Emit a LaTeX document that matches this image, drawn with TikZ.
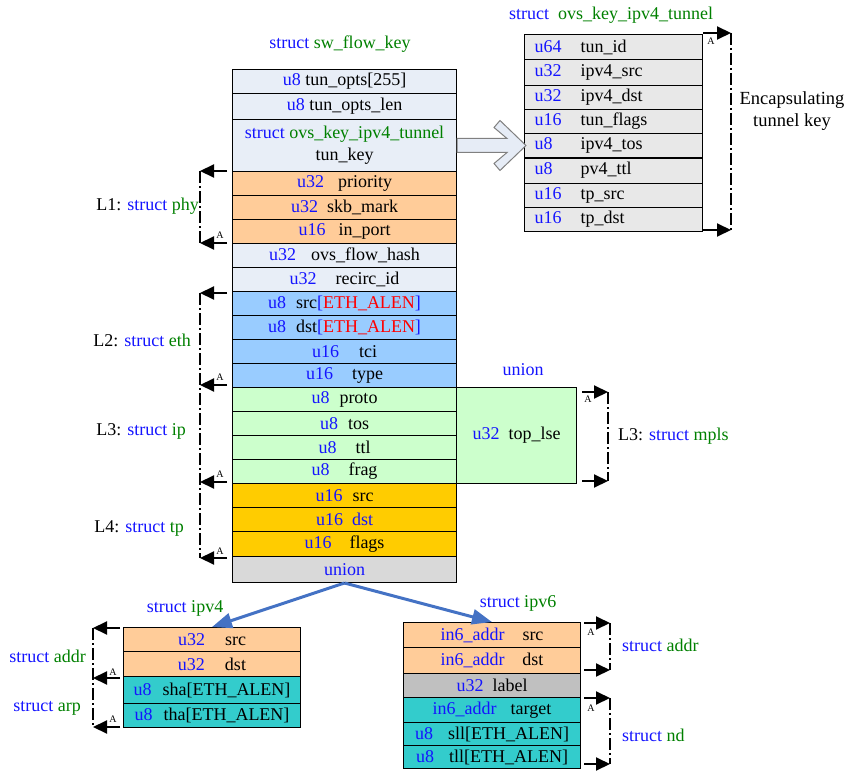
\documentclass[tikz,border=0pt]{standalone}
\usepackage{fontspec}
\setmainfont{Liberation Serif}
\usetikzlibrary{arrows.meta,calc}
\definecolor{cTun}{RGB}{232,238,247}
\definecolor{cPeach}{RGB}{255,204,153}
\definecolor{cEth}{RGB}{153,204,255}
\definecolor{cIp}{RGB}{204,255,204}
\definecolor{cTp}{RGB}{255,204,0}
\definecolor{cUnion}{RGB}{217,217,217}
\definecolor{cGray}{RGB}{232,232,232}
\definecolor{cTeal}{RGB}{51,204,204}
\definecolor{cLabel}{RGB}{192,192,192}
\definecolor{tyblue}{RGB}{20,20,255}
\definecolor{stgreen}{RGB}{0,128,0}
\definecolor{arrblue}{RGB}{68,114,196}
\definecolor{ered}{RGB}{255,0,0}
\definecolor{bigarrfill}{RGB}{230,236,246}
\newcommand\ty[1]{\textcolor{tyblue}{#1}}
\newcommand\sg[1]{\textcolor{stgreen}{#1}}
\newcommand\eth{\ty{[}\textcolor{ered}{ETH\_ALEN}\ty{]}}
\newcommand\tcol[2]{\makebox[178pt][l]{\hspace*{10pt}\makebox[46pt][l]{\ty{#1}}#2}}
\newcommand\gap[1]{\hspace*{#1pt}}
\begin{document}
\begin{tikzpicture}[x=1pt,y=-1pt,
  base/.style={font=\fontsize{18}{21}\selectfont, inner sep=0pt},
  fld/.style={draw=black, line width=1pt, inner sep=0pt, anchor=north west,
    minimum width=224, minimum height=24, font=\fontsize{18}{21}\selectfont},
  sfld/.style={fld, minimum width=177},
  tfld/.style={fld, minimum width=178, minimum height=24},
  brk/.style={line width=1.5pt, dash pattern=on 12pt off 3pt on 2pt off 3pt},
  harr/.style={line width=2pt, -{Triangle[length=14pt,width=13pt]}},
  smallA/.style={font=\fontsize{10}{10}\selectfont, inner sep=0pt},
  bluearr/.style={draw=arrblue, line width=3pt, -{Triangle[length=20pt,width=15pt]}},
  bigarrow/.style={draw=gray, line width=1pt, fill=bigarrfill}
]
\useasboundingbox (0,0) rectangle (849,781);

% ---------- titles ----------
\node[base] (tmain) at (340,44) {\ty{struct} \sg{sw\_flow\_key}};
\node[base] (ttun) at (611,15) {\ty{struct}\ \ \sg{ovs\_key\_ipv4\_tunnel}};
\node[base] (tunion) at (523,370) {\ty{union}};
\node[base] (tv4) at (185,608) {\ty{struct} \sg{ipv4}};
\node[base] (tv6) at (518,603) {\ty{struct} \sg{ipv6}};

% ---------- main struct ----------
\node[fld, fill=cTun] (tunopts) at (232,69) {\ty{u8} tun\_opts[255]};
\node[fld, fill=cTun, minimum height=26] (tunlen) at (232,93) {\ty{u8} tun\_opts\_len};
\node[fld, fill=cTun, minimum height=52, align=center, font=\fontsize{18}{22}\selectfont] (tunkey) at (232,119) {\ty{struct} \sg{ovs\_key\_ipv4\_tunnel}\\tun\_key};
\node[fld, fill=cPeach] (prio) at (232,171) {\ty{u32}\gap{14}priority};
\node[fld, fill=cPeach] (skb) at (232,195) {\ty{u32}\gap{9}skb\_mark};
\node[fld, fill=cPeach] (inport) at (232,219) {\ty{u16}\gap{13}in\_port};
\node[fld, fill=cTun] (hash) at (232,243) {\ty{u32}\gap{15}ovs\_flow\_hash};
\node[fld, fill=cTun] (recirc) at (232,267) {\ty{u32}\gap{19}recirc\_id};
\node[fld, fill=cEth] (esrc) at (232,291) {\ty{u8}\gap{10}src\eth};
\node[fld, fill=cEth] (edst) at (232,315) {\ty{u8}\gap{10}dst\eth};
\node[fld, fill=cEth] (tci) at (232,339) {\ty{u16}\gap{20}tci};
\node[fld, fill=cEth] (etype) at (232,363) {\ty{u16}\gap{19}type};
\node[fld, fill=cIp] (proto) at (232,387) {\ty{u8}\gap{10}proto};
\node[fld, fill=cIp] (tos) at (232,411) {\ty{u8}\gap{10}tos};
\node[fld, fill=cIp] (ttl) at (232,435) {\ty{u8}\gap{19}ttl};
\node[fld, fill=cIp] (frag) at (232,459) {\ty{u8}\gap{19}frag};
\node[fld, fill=cTp] (tsrc) at (232,483) {\ty{u16}\gap{10}src};
\node[fld, fill=cTp] (tdst) at (232,507) {\ty{u16}\gap{9}\ty{dst}};
\node[fld, fill=cTp, minimum height=25] (flags) at (232,531) {\ty{u16}\gap{18}flags};
\node[fld, fill=cUnion, minimum height=26] (union) at (232,556) {\ty{union}};
\node[fld, fill=cIp, minimum width=120, minimum height=96] (toplse) at (456,387) {\ty{u32}\gap{9}top\_lse};

% ---------- tunnel struct ----------
\node[tfld, fill=cGray, minimum height=25] (tid) at (524,34) {\tcol{u64}{tun\_id}};
\node[tfld, fill=cGray, minimum height=26] (tv4src) at (524,59) {\tcol{u32}{ipv4\_src}};
\node[tfld, fill=cGray] (tv4dst) at (524,85) {\tcol{u32}{ipv4\_dst}};
\node[tfld, fill=cGray] (tflags) at (524,109) {\tcol{u16}{tun\_flags}};
\node[tfld, fill=cGray] (ttos) at (524,133) {\tcol{u8}{ipv4\_tos}};
\node[tfld, fill=cGray, minimum height=26] (tttl) at (524,157) {\tcol{u8}{pv4\_ttl}};
\node[tfld, fill=cGray] (ttpsrc) at (524,183) {\tcol{u16}{tp\_src}};
\node[tfld, fill=cGray] (ttpdst) at (524,207) {\tcol{u16}{tp\_dst}};
\draw[line width=2pt] (ttos.south west) -- (ttos.south east);

% ---------- big arrow tun_key -> tunnel ----------
\draw[bigarrow, shift={(tunkey.east)}] (0,-7) -- (50,-7) -- (37,-18) -- (43,-25) -- (69,0) -- (43,25) -- (37,18) -- (50,7) -- (0,7) -- cycle;

% ---------- ipv4 ----------
\node[sfld, fill=cPeach] (v4s) at (123,627) {\ty{u32}\gap{20}src};
\node[sfld, fill=cPeach, minimum height=25] (v4d) at (123,651) {\ty{u32}\gap{20}dst};
\node[sfld, fill=cTeal, minimum height=27] (sha) at (123,676) {\ty{u8}\gap{11}sha[ETH\_ALEN]};
\node[sfld, fill=cTeal] (tha) at (123,703) {\ty{u8}\gap{11}tha[ETH\_ALEN]};

% ---------- ipv6 ----------
\node[sfld, fill=cPeach, minimum height=25] (v6s) at (403,622) {\ty{in6\_addr}\gap{18}src};
\node[sfld, fill=cPeach, minimum height=26] (v6d) at (403,647) {\ty{in6\_addr}\gap{18}dst};
\node[sfld, fill=cLabel] (v6l) at (403,673) {\ty{u32}\gap{9}label};
\node[sfld, fill=cTeal, minimum height=25] (v6t) at (403,697) {\ty{in6\_addr}\gap{14}target};
\node[sfld, fill=cTeal, minimum height=23] (sll) at (403,722) {\ty{u8}\gap{15}sll[ETH\_ALEN]};
\node[sfld, fill=cTeal, minimum height=23] (tll) at (403,745) {\ty{u8}\gap{15}tll[ETH\_ALEN]};

% ---------- union arrows ----------
\draw[bluearr] (union.south) -- (v4s.north);
\draw[bluearr] (union.south) -- (v6s.north);

% ---------- left brackets (main) ----------
\coordinate (a1s) at (227,171); \coordinate (a1e) at (200,171);
\coordinate (a2s) at (227,243); \coordinate (a2e) at (200,243);
\coordinate (a3s) at (227,293); \coordinate (a3e) at (200,293);
\coordinate (a4s) at (227,385); \coordinate (a4e) at (200,385);
\coordinate (a5s) at (227,482); \coordinate (a5e) at (200,482);
\coordinate (a6s) at (227,558); \coordinate (a6e) at (200,558);
\draw[brk] (a1e) -- (a2e);
\draw[brk] (a3e) -- (a6e);
\draw[harr] (a1s) -- (a1e);
\draw[harr] (a2s) -- (a2e);
\draw[harr] (a3s) -- (a3e);
\draw[harr] (a4s) -- (a4e);
\draw[harr] (a5s) -- (a5e);
\draw[harr] (a6s) -- (a6e);
\node[smallA] (A1) at (220,235) {A};
\node[smallA] (A2) at (220,377) {A};
\node[smallA] (A3) at (220,474) {A};
\node[smallA] (A4) at (220,551) {A};

\node[base, anchor=east] (L1lab) at (199,206) {L1: \ty{struct} \sg{phy}};
\node[base, anchor=east] (L2lab) at (191,340) {L2: \ty{struct} \sg{eth}};
\node[base, anchor=east] (L3lab) at (186,431) {L3: \ty{struct} \sg{ip}};
\node[base, anchor=east] (L4lab) at (184,528) {L4: \ty{struct} \sg{tp}};

% ---------- mpls bracket ----------
\coordinate (m1s) at (582,392); \coordinate (m1e) at (608,392);
\coordinate (m2s) at (582,481); \coordinate (m2e) at (608,481);
\draw[brk] (m1e) -- (m2e);
\draw[harr] (m1s) -- (m1e);
\draw[harr] (m2s) -- (m2e);
\node[smallA] (Am) at (588,399) {A};
\node[base, anchor=west] (mplslab) at (618,436) {L3: \ty{struct} \sg{mpls}};

% ---------- tunnel bracket ----------
\coordinate (t1s) at (703,33); \coordinate (t1e) at (731,33);
\coordinate (t2s) at (703,230); \coordinate (t2e) at (731,230);
\draw[brk] (t1e) -- (t2e);
\draw[harr] (t1s) -- (t1e);
\draw[harr] (t2s) -- (t2e);
\node[smallA] (At) at (711,41) {A};
\node[base, align=center, font=\fontsize{18.5}{22}\selectfont] (enc) at (792,111) {Encapsulating\\tunnel key};

% ---------- ipv4 brackets ----------
\coordinate (p1s) at (120,628); \coordinate (p1e) at (93,628);
\coordinate (p2s) at (120,678); \coordinate (p2e) at (93,678);
\coordinate (p3s) at (120,727); \coordinate (p3e) at (93,727);
\draw[brk] (p1e) -- (p3e);
\draw[harr] (p1s) -- (p1e);
\draw[harr] (p2s) -- (p2e);
\draw[harr] (p3s) -- (p3e);
\node[smallA] (Ap2) at (113,672) {A};
\node[smallA] (Ap3) at (113,719) {A};
\node[base, anchor=east] (v4addr) at (86,656) {\ty{struct} \sg{addr}};
\node[base, anchor=east] (v4arp) at (81,708) {\ty{struct} \sg{arp}};

% ---------- ipv6 brackets ----------
\coordinate (q1s) at (584,623); \coordinate (q1e) at (610,623);
\coordinate (q2s) at (584,670); \coordinate (q2e) at (610,670);
\coordinate (q3s) at (584,698); \coordinate (q3e) at (610,698);
\coordinate (q4s) at (584,764); \coordinate (q4e) at (610,764);
\draw[brk] (q1e) -- (q2e);
\draw[brk] (q3e) -- (q4e);
\draw[harr] (q1s) -- (q1e);
\draw[harr] (q2s) -- (q2e);
\draw[harr] (q3s) -- (q3e);
\draw[harr] (q4s) -- (q4e);
\node[smallA] (Aq1) at (591,632) {A};
\node[smallA] (Aq3) at (591,708) {A};
\node[base, anchor=west] (v6addr) at (622,645) {\ty{struct} \sg{addr}};
\node[base, anchor=west] (v6nd) at (622,735) {\ty{struct} \sg{nd}};
\end{tikzpicture}
\end{document}
